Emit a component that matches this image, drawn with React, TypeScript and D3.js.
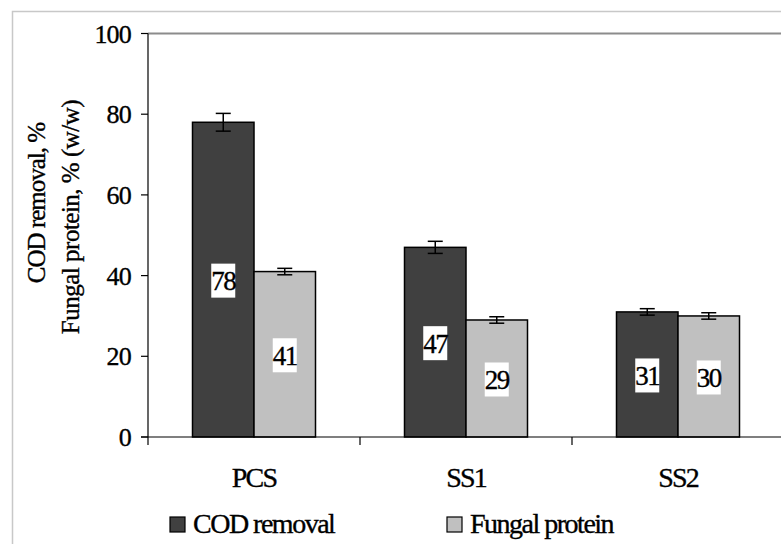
import React from "react";
import * as d3 from "d3";

const categories = ["PCS", "SS1", "SS2"];
const seriesNames = ["COD removal", "Fungal protein"];
const codRemoval = [78, 47, 31];
const codError = [2.2, 1.5, 0.8];
const fungalProtein = [41, 29, 30];
const fungalError = [0.8, 0.8, 0.8];
const yTicks = [0, 20, 40, 60, 80, 100];
const colors = ["#404040", "#c0c0c0"];

const W = 781;
const H = 544;
const left = 148;
const right = 784;
const top = 33.5;
const bottom = 437;
const FONT = "Liberation Serif";
const TS = { stroke: "#000", strokeWidth: 0.35 };

export default function App() {
  const x = d3.scaleBand<string>().domain(categories).range([left, right]).padding(0);
  const y = d3.scaleLinear().domain([0, 100]).range([bottom, top]);
  const barW = 61.5;
  const series = [
    { values: codRemoval, errors: codError },
    { values: fungalProtein, errors: fungalError },
  ];

  return (
    <svg width={W} height={H} style={{ position: "absolute", left: 0, top: 0, fontFamily: FONT }}>
      <rect x={0} y={0} width={W} height={H} fill="#fff" />
      <rect x={12.5} y={11.5} width={W} height={H} fill="none" stroke="#c8c8c8" strokeWidth={1.5} />
      <line x1={left} x2={W} y1={top} y2={top} stroke="#8c8c8c" strokeWidth={2} />

      {series.map((s, si) =>
        categories.map((c, ci) => {
          const cx = (x(c) as number) + x.bandwidth() / 2;
          const bx = si === 0 ? cx - barW : cx;
          const v = s.values[ci];
          const e = s.errors[ci];
          const mid = bx + barW / 2;
          return (
            <g key={`${si}-${ci}`}>
              <rect x={bx} y={y(v)} width={barW} height={y(0) - y(v)} fill={colors[si]} stroke="#000" strokeWidth={1.5} />
              <line x1={mid} x2={mid} y1={y(v + e)} y2={y(v - e)} stroke="#000" strokeWidth={1.5} />
              <line x1={mid - 7.5} x2={mid + 7.5} y1={y(v + e)} y2={y(v + e)} stroke="#000" strokeWidth={1.5} />
              <line x1={mid - 7.5} x2={mid + 7.5} y1={y(v - e)} y2={y(v - e)} stroke="#000" strokeWidth={1.5} />
              <rect x={mid - 12} y={y(v / 2) - 16} width={24} height={34} fill="#fff" />
              <text x={mid} y={y(v / 2) + 1} dy="0.35em" textAnchor="middle" fontSize={27} letterSpacing={-1.5} fill="#000" {...TS}>
                {v}
              </text>
            </g>
          );
        })
      )}

      <line x1={left} x2={left} y1={top} y2={bottom} stroke="#000" strokeWidth={1.2} />
      {yTicks.map((t) => (
        <g key={t}>
          <line x1={left - 7} x2={left} y1={y(t)} y2={y(t)} stroke="#000" strokeWidth={1.2} />
          <text x={131} y={y(t)} dy="0.35em" textAnchor="end" fontSize={26} letterSpacing={-0.8} fill="#000" {...TS}>
            {t}
          </text>
        </g>
      ))}

      <line x1={left - 7} x2={W} y1={bottom} y2={bottom} stroke="#000" strokeWidth={1.2} />
      {categories.map((c) => (
        <line key={`t-${c}`} x1={x(c) as number} x2={x(c) as number} y1={bottom} y2={bottom + 8} stroke="#000" strokeWidth={1.2} />
      ))}
      {categories.map((c) => (
        <text key={`l-${c}`} x={(x(c) as number) + x.bandwidth() / 2} y={487} textAnchor="middle" fontSize={28} letterSpacing={-1.8} fill="#000" {...TS}>
          {c}
        </text>
      ))}

      <text transform={`translate(45,203) rotate(-90)`} textAnchor="middle" fontSize={25} letterSpacing={-1} fill="#000" {...TS}>
        COD removal, %
      </text>
      <text transform={`translate(79,217) rotate(-90)`} textAnchor="middle" fontSize={25} letterSpacing={-0.5} fill="#000" {...TS}>
        Fungal protein, % (w/w)
      </text>

      {seriesNames.map((n, i) => {
        const lx = i === 0 ? 170 : 447;
        return (
          <g key={n}>
            <rect x={lx} y={517} width={15} height={15} fill={colors[i]} stroke="#000" strokeWidth={1.2} />
            <text x={lx + 23} y={533} fontSize={28} letterSpacing={-1.5} fill="#000" {...TS}>
              {n}
            </text>
          </g>
        );
      })}
    </svg>
  );
}
